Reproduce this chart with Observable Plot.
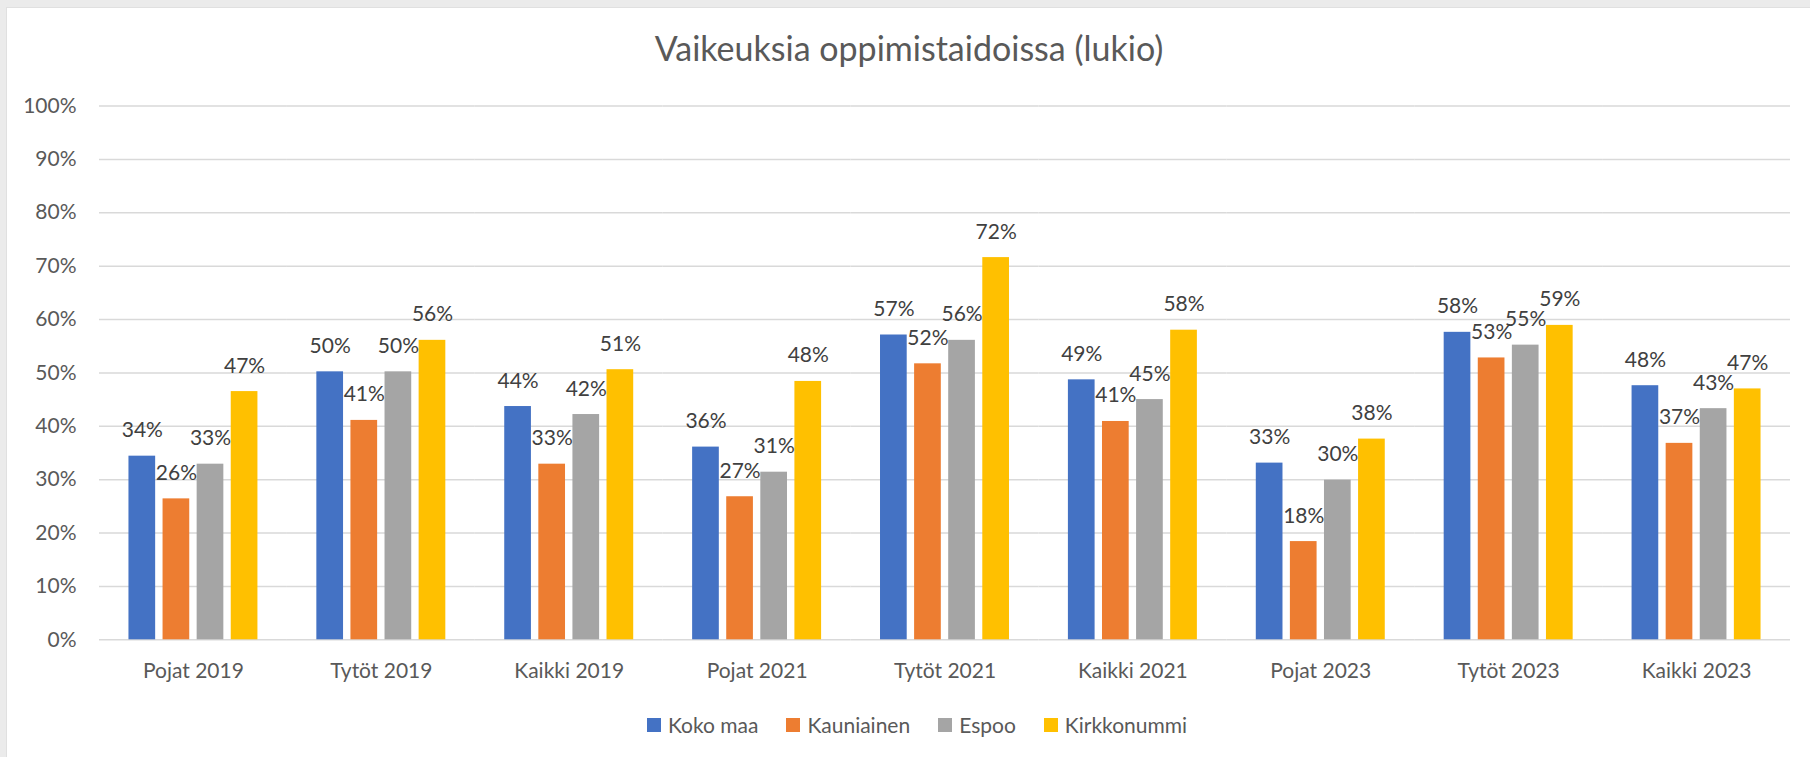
<!DOCTYPE html>
<html>
<head>
<meta charset="utf-8">
<script src="https://cdn.jsdelivr.net/npm/d3@7"></script>
<script src="https://cdn.jsdelivr.net/npm/@observablehq/plot@0.6"></script>
<style>
  html, body { margin: 0; padding: 0; }
  body { width: 1810px; height: 757px; background: #ebebeb; position: relative; overflow: hidden; font-family: Lato, "Open Sans", sans-serif; }
  #panel { position: absolute; left: 6px; top: 7px; width: 1804px; height: 750px; background: #fff; border-top: 1px solid #e0e0e0; border-left: 1px solid #e0e0e0; box-sizing: border-box; }
  #title { position: absolute; left: 0; top: 0; width: 1818px; text-align: center; font-size: 34px; color: #595959; line-height: 1; padding-top: 31px; }
  #chart { position: absolute; left: 0; top: 80px; }
  #legend { position: absolute; left: 12px; top: 712px; width: 1810px; display: flex; justify-content: center; align-items: center; font-size: 21px; color: #595959; }
  .item { display: flex; align-items: center; margin: 0 14px; }
  .sw { width: 14px; height: 14px; margin-right: 7px; }
</style>
</head>
<body>
<div id="panel"></div>
<div id="title">Vaikeuksia oppimistaidoissa (lukio)</div>
<div id="chart"></div>
<div id="legend"></div>
<script>
const categories = ["Pojat 2019", "Tytöt 2019", "Kaikki 2019", "Pojat 2021", "Tytöt 2021", "Kaikki 2021", "Pojat 2023", "Tytöt 2023", "Kaikki 2023"];
const series = ["Koko maa", "Kauniainen", "Espoo", "Kirkkonummi"];
const kokoMaa     = [0.344, 0.502, 0.437, 0.361, 0.571, 0.487, 0.331, 0.576, 0.476];
const kauniainen  = [0.264, 0.411, 0.329, 0.268, 0.517, 0.409, 0.184, 0.528, 0.368];
const espoo       = [0.329, 0.502, 0.422, 0.314, 0.561, 0.450, 0.299, 0.552, 0.433];
const kirkkonummi = [0.465, 0.561, 0.506, 0.484, 0.716, 0.580, 0.376, 0.589, 0.470];
const colors = ["#4472C4", "#ED7D31", "#A5A5A5", "#FFC000"];
const yTicks = [0, 0.1, 0.2, 0.3, 0.4, 0.5, 0.6, 0.7, 0.8, 0.9, 1.0];

const seriesValues = [kokoMaa, kauniainen, espoo, kirkkonummi];
const data = [];
categories.forEach((c, i) => {
  series.forEach((s, j) => data.push({cat: c, series: s, value: seriesValues[j][i]}));
});

const pct = d => Math.round(d * 100) + "%";

const chart = Plot.plot({
  width: 1810,
  height: 620,
  marginLeft: 99,
  marginRight: 20,
  marginTop: 25.5,
  marginBottom: 60.7,
  style: {fontFamily: "Lato, 'Open Sans', sans-serif", fontSize: "21px", color: "#595959", background: "transparent"},
  fx: {domain: categories, paddingInner: 0, paddingOuter: 0, round: false, label: null, axis: "bottom", tickSize: 0, tickPadding: 23},
  x: {domain: series, paddingInner: 0.217, paddingOuter: 0.864, round: false, axis: null},
  y: {domain: [0, 1], ticks: yTicks, tickFormat: pct, tickSize: 0, tickPadding: 23, label: null},
  color: {domain: series, range: colors},
  marks: [
    Plot.gridY(yTicks, {stroke: "#d9d9d9", strokeOpacity: 1, strokeWidth: 1.5}),
    Plot.barY(data, {fx: "cat", x: "series", y: "value", fill: "series"}),
    Plot.text(data, {fx: "cat", x: "series", y: "value", text: d => pct(d.value), lineAnchor: "bottom", dy: -19, fill: "#404040", fontSize: 21})
  ]
});
document.getElementById("chart").appendChild(chart);

const legend = document.getElementById("legend");
series.forEach((s, j) => {
  const item = document.createElement("div");
  item.className = "item";
  const sw = document.createElement("div");
  sw.className = "sw";
  sw.style.background = colors[j];
  const t = document.createElement("span");
  t.textContent = s;
  item.appendChild(sw);
  item.appendChild(t);
  legend.appendChild(item);
});
</script>
</body>
</html>
